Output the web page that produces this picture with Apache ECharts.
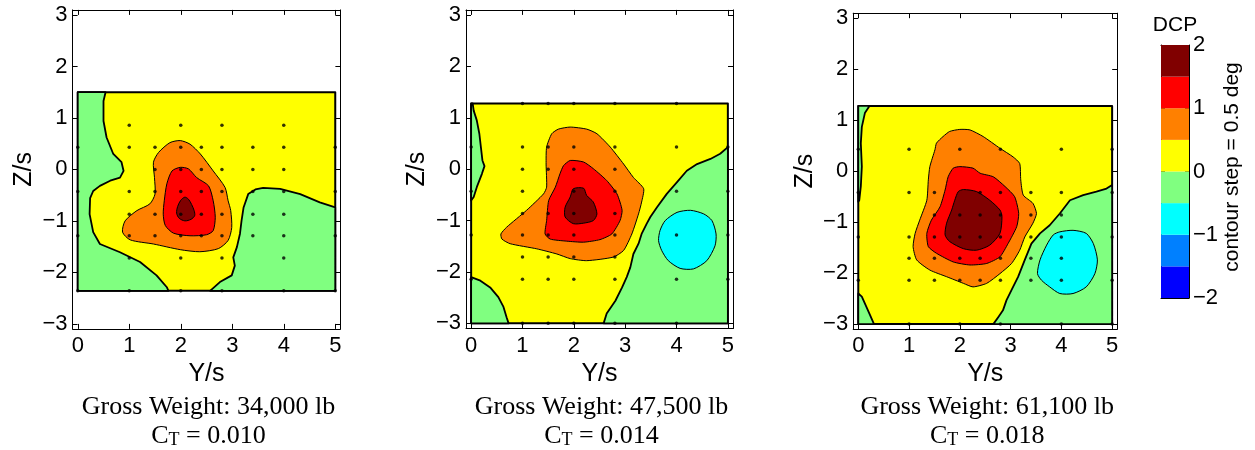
<!DOCTYPE html>
<html>
<head>
<meta charset="utf-8">
<script src="https://cdn.jsdelivr.net/npm/echarts@6/dist/echarts.min.js"></script>
<style>html,body{margin:0;padding:0;background:#fff;}#c{width:1255px;height:450px;}</style>
</head>
<body>
<div id="c"></div>
<script>
// ---------- DATA ----------
const levels = [-2, -1.5, -1, -0.5, 0, 0.5, 1, 1.5, 2];
const levelColors = ['#0000ff', '#0080ff', '#00ffff', '#80ff80', '#ffff00', '#ff8000', '#ff0000', '#800000'];
const xTicks = [0, 1, 2, 3, 4, 5];
const yTicks = [-3, -2, -1, 0, 1, 2, 3];
const cbTicks = [-2, -1, 0, 1, 2];
const captionWeights = ['Gross Weight: 34,000 lb', 'Gross Weight: 47,500 lb', 'Gross Weight: 61,100 lb'];
const captionCT = ['0.010', '0.014', '0.018'];

// Panel 1 (34,000 lb) contour regions, [Y/s, Z/s]
const p1Extent = [[0, 1.5], [5, 1.5], [5, -2.36], [0, -2.36]];
const p1GreenLeft = [[0, 1.5], [0.54, 1.5], [0.5, 1.33], [0.5, 1.07], [0.5, 0.94], [0.56, 0.62], [0.69, 0.3], [0.85, 0.14], [0.89, -0.03], [0.82, -0.16], [0.63, -0.22], [0.43, -0.32], [0.3, -0.42], [0.24, -0.56], [0.23, -0.87], [0.3, -1.22], [0.43, -1.45], [0.82, -1.61], [1.21, -1.8], [1.53, -2.06], [1.73, -2.29], [1.76, -2.36], [0, -2.36]];
const p1GreenRight = [[2.57, -2.36], [2.76, -2.19], [2.99, -2.06], [3.05, -1.87], [3.02, -1.71], [3.09, -1.51], [3.15, -1.25], [3.18, -1.0], [3.22, -0.74], [3.31, -0.48], [3.45, -0.39], [3.6, -0.36], [3.93, -0.38], [4.32, -0.48], [4.7, -0.64], [5, -0.74], [5, -2.36]];
const p1Orange = [[1.99, 0.56], [2.18, 0.49], [2.38, 0.3], [2.63, -0.03], [2.86, -0.35], [2.92, -0.61], [2.97, -0.8], [2.99, -1.13], [2.92, -1.38], [2.73, -1.54], [2.37, -1.6], [1.99, -1.56], [1.47, -1.45], [1.02, -1.37], [0.87, -1.22], [0.92, -1.0], [1.15, -0.8], [1.4, -0.67], [1.5, -0.48], [1.49, -0.16], [1.47, 0.14], [1.57, 0.33], [1.79, 0.52]];
const p1Red = [[1.99, 0.04], [2.15, 0.01], [2.31, -0.16], [2.54, -0.32], [2.63, -0.61], [2.67, -0.93], [2.63, -1.19], [2.5, -1.27], [2.18, -1.29], [1.86, -1.24], [1.7, -1.09], [1.66, -0.87], [1.68, -0.61], [1.73, -0.28], [1.83, -0.03]];
const p1Dark = [[2.08, -0.54], [2.15, -0.58], [2.21, -0.68], [2.26, -0.8], [2.27, -0.9], [2.2, -0.97], [2.08, -1.0], [1.97, -0.95], [1.92, -0.85], [1.94, -0.72], [2.0, -0.6]];
const p1Dots = [[1, 0.86], [2, 0.86], [2.8, 0.86], [4, 0.86],
  [0, 0.43], [1, 0.43], [1.5, 0.43], [2, 0.43], [2.4, 0.43], [2.8, 0.43], [3.4, 0.43], [4, 0.43], [5, 0.43],
  [1.5, 0], [2, 0], [2.4, 0], [2.8, 0], [3.4, 0], [4, 0],
  [0, -0.43], [1, -0.43], [1.5, -0.43], [2, -0.43], [2.4, -0.43], [2.8, -0.43], [3.4, -0.43], [4, -0.43], [5, -0.43],
  [1, -0.87], [1.5, -0.87], [2, -0.87], [2.4, -0.87], [2.8, -0.87], [3.4, -0.87], [4, -0.87],
  [0, -1.29], [1, -1.29], [1.5, -1.29], [2, -1.29], [2.4, -1.29], [2.8, -1.29], [3.4, -1.29], [4, -1.29], [5, -1.29],
  [1, -1.72], [2, -1.72], [2.8, -1.72], [4, -1.72],
  [0, -2.36], [1, -2.36], [2, -2.36], [2.8, -2.36], [4, -2.36], [5, -2.36]];

// Panel 2 (47,500 lb)
const p2Extent = [[0, 1.28], [5, 1.28], [5, -3], [0, -3]];
const p2GreenTop = [[0, 1.28], [0.03, 1.28], [0.05, 1.14], [0.11, 0.95], [0.16, 0.69], [0.19, 0.43], [0.22, 0.17], [0.26, 0.06], [0.21, -0.09], [0.11, -0.35], [0.05, -0.54], [0, -0.61]];
const p2GreenBottom = [[0, -2.1], [0.18, -2.17], [0.37, -2.3], [0.53, -2.49], [0.63, -2.68], [0.69, -2.88], [0.73, -3], [0, -3]];
const p2GreenRight = [[2.58, -3], [2.64, -2.81], [2.81, -2.56], [2.94, -2.3], [3.03, -2.1], [3.1, -1.91], [3.16, -1.65], [3.26, -1.45], [3.32, -1.26], [3.42, -1.06], [3.49, -0.93], [3.62, -0.74], [3.81, -0.48], [4.01, -0.25], [4.2, -0.03], [4.4, 0.1], [4.66, 0.2], [4.85, 0.3], [5, 0.43], [5, -3]];
const p2Cyan = [[4.01, -0.84], [4.27, -0.8], [4.53, -0.87], [4.69, -1.0], [4.77, -1.26], [4.75, -1.49], [4.59, -1.78], [4.33, -1.94], [4.07, -1.93], [3.84, -1.78], [3.71, -1.58], [3.65, -1.39], [3.68, -1.19], [3.78, -1.0]];
const p2Orange = [[1.93, 0.82], [2.25, 0.78], [2.45, 0.69], [2.71, 0.43], [2.97, 0.1], [3.16, -0.16], [3.36, -0.38], [3.32, -0.64], [3.26, -0.87], [3.13, -1.26], [2.97, -1.58], [2.77, -1.71], [2.25, -1.78], [1.93, -1.74], [1.67, -1.65], [1.28, -1.55], [0.76, -1.45], [0.6, -1.36], [0.58, -1.26], [0.69, -1.13], [1.08, -0.8], [1.41, -0.48], [1.47, -0.35], [1.46, 0.1], [1.47, 0.43], [1.57, 0.69], [1.7, 0.78]];
const p2Red = [[1.93, 0.17], [2.19, 0.14], [2.38, 0.01], [2.64, -0.22], [2.84, -0.48], [2.94, -0.8], [2.9, -1.0], [2.74, -1.26], [2.51, -1.37], [2.19, -1.42], [1.86, -1.4], [1.54, -1.36], [1.44, -1.26], [1.47, -1.0], [1.51, -0.61], [1.64, -0.35], [1.73, -0.09], [1.8, 0.07]];
const p2Dark = [[1.99, -0.38], [2.19, -0.37], [2.25, -0.51], [2.38, -0.64], [2.45, -0.87], [2.38, -1.0], [2.19, -1.05], [1.99, -1.06], [1.83, -0.93], [1.83, -0.74], [1.93, -0.54]];
const p2Dots = [[1, 1.28], [1.5, 1.28], [2, 1.28], [2.8, 1.28], [4, 1.28],
  [0, 0.43], [1, 0.43], [1.5, 0.43], [2, 0.43], [2.8, 0.43], [4, 0.43], [5, 0.43],
  [1, 0], [1.5, 0], [2, 0], [2.8, 0],
  [0, -0.43], [1, -0.43], [2, -0.43], [2.8, -0.43], [4, -0.43], [5, -0.43],
  [1, -0.86], [1.5, -0.86], [2, -0.86], [2.8, -0.86],
  [0, -1.28], [1, -1.28], [1.5, -1.28], [2, -1.28], [2.8, -1.28], [4, -1.28], [5, -1.28],
  [1, -1.71], [1.5, -1.71], [2, -1.71], [2.8, -1.71],
  [0, -2.14], [1, -2.14], [1.5, -2.14], [2, -2.14], [2.8, -2.14], [4, -2.14], [5, -2.14],
  [1, -3], [1.5, -3], [2, -3], [2.8, -3], [4, -3]];

// Panel 3 (61,100 lb)
const p3Extent = [[0, 1.28], [5, 1.28], [5, -3], [0, -3]];
const p3GreenTop = [[0, 1.28], [0.22, 1.28], [0.13, 1.14], [0.07, 0.87], [0.05, 0.55], [0.07, 0.09], [0.05, -0.3], [0.02, -0.57], [0, -0.6]];
const p3GreenBottom = [[0, -2.4], [0.07, -2.46], [0.16, -2.66], [0.23, -2.82], [0.31, -3], [0, -3]];
const p3GreenRight = [[2.66, -3], [2.76, -2.86], [2.85, -2.73], [2.92, -2.53], [3.02, -2.33], [3.15, -2.07], [3.28, -1.74], [3.41, -1.42], [3.58, -1.22], [3.77, -1.06], [3.97, -0.83], [4.17, -0.57], [4.43, -0.47], [4.69, -0.4], [4.89, -0.34], [5, -0.27], [5, -3]];
const p3Cyan = [[3.97, -1.19], [4.23, -1.16], [4.49, -1.22], [4.63, -1.42], [4.71, -1.74], [4.66, -2.01], [4.49, -2.27], [4.23, -2.4], [3.97, -2.4], [3.77, -2.27], [3.61, -2.14], [3.53, -2.01], [3.58, -1.74], [3.71, -1.45], [3.84, -1.25]];
const p3Orange = [[2.0, 0.82], [2.2, 0.81], [2.46, 0.68], [2.79, 0.45], [3.05, 0.28], [3.18, 0.15], [3.2, -0.17], [3.25, -0.47], [3.44, -0.63], [3.51, -0.83], [3.44, -1.02], [3.28, -1.29], [3.18, -1.55], [3.02, -1.81], [2.79, -2.01], [2.53, -2.2], [2.26, -2.27], [2.07, -2.2], [1.74, -2.07], [1.41, -1.94], [1.15, -1.74], [1.08, -1.48], [1.12, -1.22], [1.21, -0.96], [1.35, -0.57], [1.38, -0.17], [1.41, 0.09], [1.51, 0.42], [1.54, 0.55], [1.67, 0.68], [1.8, 0.78]];
const p3Red = [[2.0, 0.09], [2.26, 0.06], [2.4, -0.04], [2.66, -0.11], [2.89, -0.3], [3.08, -0.5], [3.16, -0.83], [3.12, -1.09], [2.95, -1.42], [2.79, -1.68], [2.53, -1.81], [2.2, -1.84], [1.87, -1.78], [1.54, -1.61], [1.38, -1.48], [1.35, -1.22], [1.44, -0.96], [1.61, -0.7], [1.71, -0.37], [1.77, -0.11], [1.87, 0.06]];
const p3Dark = [[2.07, -0.36], [2.33, -0.4], [2.59, -0.57], [2.79, -0.76], [2.83, -0.89], [2.79, -1.22], [2.59, -1.45], [2.33, -1.55], [2.07, -1.52], [1.8, -1.38], [1.71, -1.25], [1.74, -1.02], [1.84, -0.76], [1.9, -0.57], [1.97, -0.4]];
const p3Dots = [[0, 0.43], [1, 0.43], [2, 0.43], [2.8, 0.43], [4, 0.43], [5, 0.43],
  [0, -0.42], [1, -0.42], [1.5, -0.42], [2.4, -0.42], [2.8, -0.42], [3.4, -0.42], [4, -0.42], [5, -0.42],
  [1.5, -0.86], [2, -0.86], [2.4, -0.86], [2.8, -0.86], [3.4, -0.86], [4, -0.86],
  [0, -1.29], [1, -1.29], [1.5, -1.29], [2, -1.29], [2.4, -1.29], [2.8, -1.29], [3.4, -1.29], [4, -1.29], [5, -1.29],
  [1, -1.71], [1.5, -1.71], [2, -1.71], [2.4, -1.71], [2.8, -1.71], [3.4, -1.71], [4, -1.71],
  [0, -2.14], [1, -2.14], [1.5, -2.14], [2, -2.14], [2.4, -2.14], [2.8, -2.14], [3.4, -2.14], [4, -2.14], [5, -2.14],
  [1, -3], [2, -3], [2.8, -3], [4, -3], [5, -3]];

// ---------- BUILD ----------
// band index into levelColors: 3 = [-0.5,0], 2 = [-1,-0.5], 4 = [0,0.5], 5..7 above
const panels = [
  { regions: [
      { pts: p1Extent, band: 4, lw: 2 }, { pts: p1GreenLeft, band: 3, lw: 1.8 }, { pts: p1GreenRight, band: 3, lw: 1.8 },
      { pts: p1Orange, band: 5, lw: 1, smooth: 0.25 }, { pts: p1Red, band: 6, lw: 1, smooth: 0.25 }, { pts: p1Dark, band: 7, lw: 1, smooth: 0.3 }],
    dots: p1Dots, grid: { left: 72.6, top: 9.9, width: 267.8, height: 319 } },
  { regions: [
      { pts: p2Extent, band: 4, lw: 2 }, { pts: p2GreenTop, band: 3, lw: 1.8 }, { pts: p2GreenBottom, band: 3, lw: 1.8 }, { pts: p2GreenRight, band: 3, lw: 1.8 },
      { pts: p2Cyan, band: 2, lw: 1, smooth: 0.25 },
      { pts: p2Orange, band: 5, lw: 1, smooth: 0.2 }, { pts: p2Red, band: 6, lw: 1, smooth: 0.2 }, { pts: p2Dark, band: 7, lw: 1, smooth: 0.25 }],
    dots: p2Dots, grid: { left: 466, top: 9.9, width: 267, height: 318.6 } },
  { regions: [
      { pts: p3Extent, band: 4, lw: 2 }, { pts: p3GreenTop, band: 3, lw: 1.8 }, { pts: p3GreenBottom, band: 3, lw: 1.8 }, { pts: p3GreenRight, band: 3, lw: 1.8 },
      { pts: p3Cyan, band: 2, lw: 1, smooth: 0.25 },
      { pts: p3Orange, band: 5, lw: 1, smooth: 0.2 }, { pts: p3Red, band: 6, lw: 1, smooth: 0.2 }, { pts: p3Dark, band: 7, lw: 1, smooth: 0.25 }],
    dots: p3Dots, grid: { left: 853.2, top: 13.2, width: 264, height: 316 } }
];

const FONT = 'Liberation Sans';
const SERIF = 'Liberation Serif';
const minusFmt = v => (v < 0 ? '\u2212' + (-v) : String(v));

const grids = [], xAxes = [], yAxes = [], series = [], graphics = [];

panels.forEach((p, i) => {
  grids.push(Object.assign({ outerBoundsMode: 'none', containLabel: false }, p.grid));
  const lineS = { show: true, onZero: false, lineStyle: { color: '#000', width: 1 } };
  const tickS = { show: true, inside: true, length: 5, customValues: xTicks, lineStyle: { color: '#000', width: 1 } };
  const xb = xAxes.length;
  xAxes.push({
    gridIndex: i, type: 'value', position: 'bottom', min: -0.1, max: 5.1,
    axisLine: lineS, axisTick: tickS, splitLine: { show: false },
    axisLabel: { customValues: xTicks, fontSize: 22, fontFamily: FONT, color: '#000', margin: 6 },
    name: 'Y/s', nameLocation: 'middle', nameGap: 22,
    nameTextStyle: { fontSize: 25, fontFamily: FONT, color: '#000' }
  });
  xAxes.push({
    gridIndex: i, type: 'value', position: 'top', min: -0.1, max: 5.1,
    axisLine: lineS, axisTick: tickS, splitLine: { show: false }, axisLabel: { show: false }
  });
  const ytickS = { show: true, inside: true, length: 5, customValues: yTicks, lineStyle: { color: '#000', width: 1 } };
  const yl = yAxes.length;
  yAxes.push({
    gridIndex: i, type: 'value', position: 'left', min: -3.1, max: 3.1,
    axisLine: lineS, axisTick: ytickS, splitLine: { show: false },
    axisLabel: { customValues: yTicks, fontSize: 22, fontFamily: FONT, color: '#000', margin: 5, formatter: minusFmt },
    name: 'Z/s', nameLocation: 'middle', nameGap: 36, nameRotate: 90,
    nameTextStyle: { fontSize: 25, fontFamily: FONT, color: '#000' }
  });
  yAxes.push({
    gridIndex: i, type: 'value', position: 'right', min: -3.1, max: 3.1,
    axisLine: lineS, axisTick: ytickS, splitLine: { show: false }, axisLabel: { show: false }
  });
  const regions = p.regions;
  series.push({
    type: 'custom', xAxisIndex: xb, yAxisIndex: yl, z: 2, silent: true, clip: false,
    data: regions.map(() => [0, 0]),
    renderItem: (params, api) => {
      const r = regions[params.dataIndex];
      return {
        type: 'polygon',
        shape: { points: r.pts.map(pt => api.coord(pt)), smooth: r.smooth || 0 },
        style: { fill: levelColors[r.band], stroke: '#000', lineWidth: r.lw, lineJoin: 'round' }
      };
    }
  });
  series.push({
    type: 'scatter', xAxisIndex: xb, yAxisIndex: yl, z: 3, silent: true,
    symbol: 'circle', symbolSize: 3.5, itemStyle: { color: '#000' },
    data: p.dots
  });
  // captions
  const cx = p.grid.left + p.grid.width / 2 + 2;
  graphics.push({
    type: 'text', x: cx, y: 407,
    style: { text: captionWeights[i], fontSize: 26, fontFamily: SERIF, fill: '#000', align: 'center', verticalAlign: 'middle' }
  });
  graphics.push({
    type: 'text', x: cx, y: 440,
    style: {
      text: '{c|C}{s|T}{c| = ' + captionCT[i] + '}',
      align: 'center', verticalAlign: 'middle', fill: '#000',
      rich: {
        c: { fontSize: 26, fontFamily: SERIF, fill: '#000', padding: [0, 0, 7, 0] },
        s: { fontSize: 18, fontFamily: SERIF, fill: '#000' }
      }
    }
  });
});

// colorbar grid
const cbi = grids.length;
grids.push({ left: 1161, top: 45, width: 28, height: 253, outerBoundsMode: 'none', containLabel: false });
const cbLine = { show: true, onZero: false, lineStyle: { color: '#000', width: 1 } };
const cbx = xAxes.length;
xAxes.push({ gridIndex: cbi, type: 'value', min: 0, max: 1, position: 'bottom', axisLine: cbLine, axisTick: { show: false }, axisLabel: { show: false }, splitLine: { show: false } });
xAxes.push({ gridIndex: cbi, type: 'value', min: 0, max: 1, position: 'top', axisLine: cbLine, axisTick: { show: false }, axisLabel: { show: false }, splitLine: { show: false } });
const cby = yAxes.length;
yAxes.push({
  gridIndex: cbi, type: 'value', min: -2, max: 2, interval: 1, position: 'right',
  axisLine: cbLine, axisTick: { show: true, inside: true, length: 4, lineStyle: { color: '#000' } },
  axisLabel: { fontSize: 22, fontFamily: FONT, color: '#000', margin: 4, formatter: minusFmt },
  splitLine: { show: false }
});
yAxes.push({
  gridIndex: cbi, type: 'value', min: -2, max: 2, interval: 1, position: 'left',
  axisLine: cbLine, axisTick: { show: true, inside: true, length: 4, lineStyle: { color: '#000' } },
  axisLabel: { show: false }, splitLine: { show: false }
});
const cbBands = levelColors.map((c, k) => [levels[k], levels[k + 1]]);
series.push({
  type: 'custom', xAxisIndex: cbx, yAxisIndex: cby, z: 1, silent: true,
  data: cbBands.map(() => [0, 0]),
  renderItem: (params, api) => {
    const b = cbBands[params.dataIndex];
    const a = api.coord([0, b[1]]);
    const d = api.coord([1, b[0]]);
    return { type: 'rect', shape: { x: a[0], y: a[1], width: d[0] - a[0], height: d[1] - a[1] },
      style: { fill: levelColors[params.dataIndex], stroke: null } };
  }
});
graphics.push({ type: 'text', x: 1175, y: 25, style: { text: 'DCP', fontSize: 21, fontFamily: FONT, fill: '#000', align: 'center', verticalAlign: 'middle' } });
graphics.push({ type: 'text', x: 1232, y: 167, rotation: Math.PI / 2, style: { text: 'contour step = 0.5 deg', fontSize: 21, fontFamily: FONT, fill: '#000', align: 'center', verticalAlign: 'middle' } });

const chart = echarts.init(document.getElementById('c'), null, { renderer: 'canvas' });
chart.setOption({
  animation: false,
  backgroundColor: '#fff',
  grid: grids, xAxis: xAxes, yAxis: yAxes, series: series, graphic: graphics
});
</script>
</body>
</html>
